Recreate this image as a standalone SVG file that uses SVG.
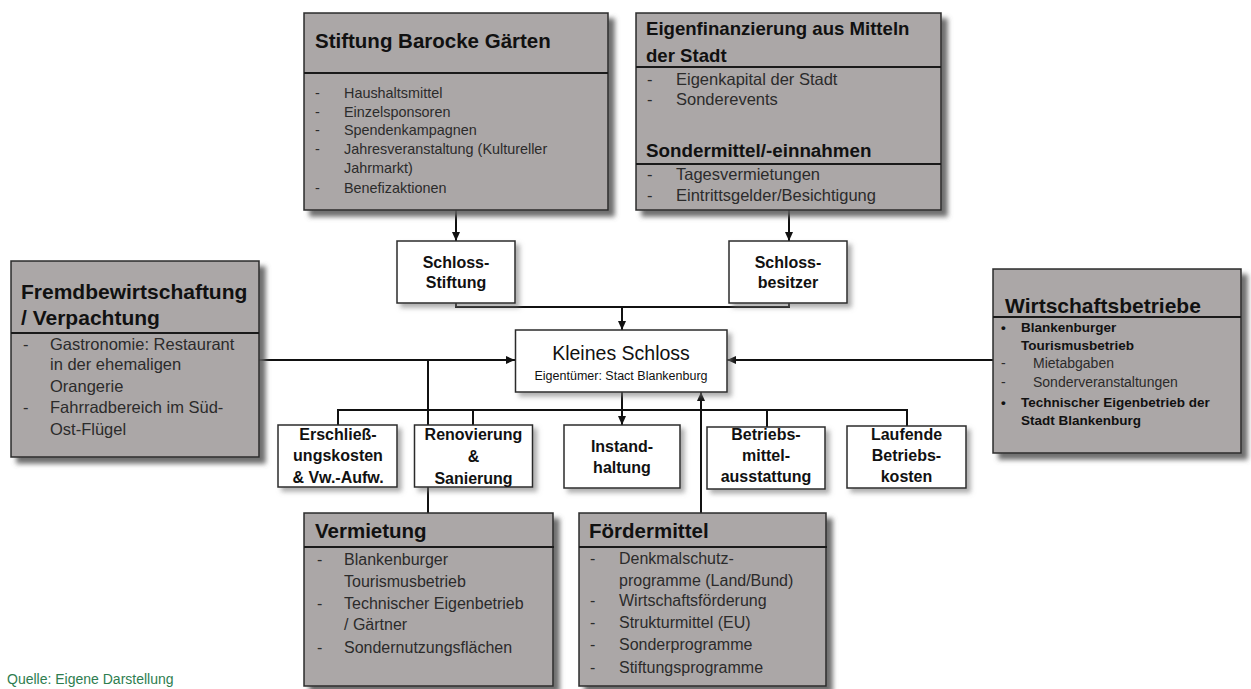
<svg xmlns="http://www.w3.org/2000/svg" width="1251" height="689" viewBox="0 0 1251 689">
<style>
.g{fill:#aba7a7;stroke:#2b2b2b;stroke-width:1.5;filter:url(#sh)}
.w{fill:#fff;stroke:#2b2b2b;stroke-width:1.5;filter:url(#shw)}
.dv{stroke:#1a1a1a;stroke-width:2}
.t{font-family:"Liberation Sans",Arial,sans-serif;font-weight:bold;fill:#111}
.i{font-family:"Liberation Sans",Arial,sans-serif;fill:#2b2b2b}
.b{font-family:"Liberation Sans",Arial,sans-serif;font-weight:bold;fill:#111;font-size:16px;text-anchor:middle}
.c{stroke:#111;stroke-width:2;fill:none}
.a{marker-end:url(#ar)}
</style>
<defs>
<filter id="sh" x="-10%" y="-10%" width="130%" height="130%"><feDropShadow dx="6" dy="6" stdDeviation="2.5" flood-color="#5f5f5f" flood-opacity="0.9"/></filter>
<filter id="shw" x="-10%" y="-10%" width="130%" height="130%"><feDropShadow dx="4" dy="4" stdDeviation="2.5" flood-color="#777" flood-opacity="0.6"/></filter>
<marker id="ar" markerUnits="userSpaceOnUse" markerWidth="9" markerHeight="8" refX="9" refY="4" orient="auto"><path d="M0,0 L9,4 L0,8 z" fill="#111"/></marker>
</defs>

<g id="connectors">
<line class="c a" x1="456" y1="210" x2="456" y2="241"/>
<line class="c a" x1="789" y1="210" x2="789" y2="241"/>
<polyline class="c" points="456,303 456,307 789,307 789,303"/>
<line class="c a" x1="622" y1="307" x2="622" y2="330"/>
<line class="c a" x1="259" y1="360" x2="515" y2="360"/>
<line class="c a" x1="993" y1="360" x2="727" y2="360"/>
<line class="c" x1="428" y1="513" x2="428" y2="360"/>
<line class="c a" x1="701" y1="513" x2="701" y2="392"/>
<line class="c" x1="622" y1="392" x2="622" y2="410"/>
<polyline class="c" points="338,425 338,410 907,410 907,426"/>
<line class="c" x1="473" y1="410" x2="473" y2="425"/>
<line class="c" x1="767" y1="410" x2="767" y2="427"/>
<line class="c a" x1="622" y1="410" x2="622" y2="425"/>
</g>

<g id="stiftung-barocke-gaerten">
<rect class="g" x="304" y="13" width="304" height="197"/>
<line class="dv" x1="304" y1="73" x2="608" y2="73"/>
<text class="t" x="315" y="48" font-size="20.5">Stiftung Barocke Gärten</text>
<g class="i" font-size="14.4">
<text x="315" y="98">-</text><text x="344" y="98">Haushaltsmittel</text>
<text x="315" y="117">-</text><text x="344" y="117">Einzelsponsoren</text>
<text x="315" y="135">-</text><text x="344" y="135">Spendenkampagnen</text>
<text x="315" y="154">-</text><text x="344" y="154">Jahresveranstaltung (Kultureller</text>
<text x="344" y="173">Jahrmarkt)</text>
<text x="315" y="193">-</text><text x="344" y="193">Benefizaktionen</text>
</g>
</g>

<g id="eigenfinanzierung">
<rect class="g" x="636" y="13" width="305" height="197"/>
<line class="dv" x1="636" y1="67" x2="941" y2="67"/>
<line class="dv" x1="636" y1="164" x2="941" y2="164"/>
<text class="t" x="646" y="35" font-size="18.6">Eigenfinanzierung aus Mitteln</text>
<text class="t" x="646" y="62" font-size="18.6">der Stadt</text>
<text class="t" x="646" y="157" font-size="18.8">Sondermittel/-einnahmen</text>
<g class="i" font-size="16.5">
<text x="647" y="85">-</text><text x="676" y="85">Eigenkapital der Stadt</text>
<text x="647" y="105">-</text><text x="676" y="105">Sonderevents</text>
<text x="647" y="180">-</text><text x="676" y="180">Tagesvermietungen</text>
<text x="647" y="201">-</text><text x="676" y="201">Eintrittsgelder/Besichtigung</text>
</g>
</g>

<g id="fremdbewirtschaftung">
<rect class="g" x="11" y="261" width="248" height="196"/>
<line class="dv" x1="11" y1="333" x2="259" y2="333"/>
<text class="t" x="21" y="299" font-size="21">Fremdbewirtschaftung</text>
<text class="t" x="21" y="325" font-size="21">/ Verpachtung</text>
<g class="i" font-size="16.5">
<text x="23" y="350">-</text><text x="50" y="350">Gastronomie: Restaurant</text>
<text x="50" y="370">in der ehemaligen</text>
<text x="50" y="392">Orangerie</text>
<text x="23" y="413">-</text><text x="50" y="413">Fahrradbereich im Süd-</text>
<text x="50" y="435">Ost-Flügel</text>
</g>
</g>

<g id="wirtschaftsbetriebe">
<rect class="g" x="993" y="269" width="248" height="184"/>
<line class="dv" x1="993" y1="317" x2="1241" y2="317"/>
<text class="t" x="1005" y="313" font-size="21">Wirtschaftsbetriebe</text>
<g class="t" font-size="13.5">
<text x="1001" y="332">•</text><text x="1021" y="332">Blankenburger</text>
<text x="1021" y="350">Tourismusbetrieb</text>
<text x="1001" y="407">•</text><text x="1021" y="407">Technischer Eigenbetrieb der</text>
<text x="1021" y="425">Stadt Blankenburg</text>
</g>
<g class="i" font-size="14">
<text x="1001" y="368">-</text><text x="1033" y="368">Mietabgaben</text>
<text x="1001" y="387">-</text><text x="1033" y="387">Sonderveranstaltungen</text>
</g>
</g>

<g id="schloss-stiftung">
<rect class="w" x="397" y="241" width="118" height="62"/>
<text class="b" x="456" y="268">Schloss-</text>
<text class="b" x="456" y="288">Stiftung</text>
</g>

<g id="schloss-besitzer">
<rect class="w" x="729" y="241" width="118" height="62"/>
<text class="b" x="788" y="268">Schloss-</text>
<text class="b" x="788" y="288">besitzer</text>
</g>

<g id="kleines-schloss">
<rect class="w" x="515.5" y="330" width="211.5" height="62"/>
<text x="621" y="360" font-family="Liberation Sans, Arial, sans-serif" font-size="19.5" fill="#111" text-anchor="middle">Kleines Schloss</text>
<text x="621" y="380" font-family="Liberation Sans, Arial, sans-serif" font-size="12.5" fill="#111" text-anchor="middle">Eigentümer: Stact Blankenburg</text>
</g>

<g id="erschliessungskosten">
<rect class="w" x="278" y="425" width="119" height="62"/>
<text class="b" x="338" y="440">Erschließ-</text>
<text class="b" x="338" y="461">ungskosten</text>
<text class="b" x="338" y="483">&amp; Vw.-Aufw.</text>
</g>

<g id="renovierung">
<rect class="w" x="414.5" y="425" width="118" height="62"/>
<text class="b" x="473.5" y="440">Renovierung</text>
<text class="b" x="473.5" y="462">&amp;</text>
<text class="b" x="473.5" y="484">Sanierung</text>
</g>

<g id="instandhaltung">
<rect class="w" x="564" y="425" width="116" height="63"/>
<text class="b" x="622" y="452">Instand-</text>
<text class="b" x="622" y="473">haltung</text>
</g>

<g id="betriebsmittel">
<rect class="w" x="707" y="427" width="118" height="62"/>
<text class="b" x="766" y="440">Betriebs-</text>
<text class="b" x="766" y="461">mittel-</text>
<text class="b" x="766" y="482">ausstattung</text>
</g>

<g id="laufende-betriebskosten">
<rect class="w" x="847" y="426" width="119" height="62"/>
<text class="b" x="906.5" y="440">Laufende</text>
<text class="b" x="906.5" y="461">Betriebs-</text>
<text class="b" x="906.5" y="482">kosten</text>
</g>

<g id="vermietung">
<rect class="g" x="304" y="513" width="249" height="173"/>
<line class="dv" x1="304" y1="547" x2="554" y2="547"/>
<text class="t" x="315" y="538" font-size="20.5">Vermietung</text>
<g class="i" font-size="16">
<text x="317" y="565">-</text><text x="344" y="565">Blankenburger</text>
<text x="344" y="587">Tourismusbetrieb</text>
<text x="317" y="609">-</text><text x="344" y="609">Technischer Eigenbetrieb</text>
<text x="344" y="630">/ Gärtner</text>
<text x="317" y="653">-</text><text x="344" y="653">Sondernutzungsflächen</text>
</g>
</g>

<g id="foerdermittel">
<rect class="g" x="579" y="513" width="247" height="173"/>
<line class="dv" x1="579" y1="547" x2="827" y2="547"/>
<text class="t" x="589" y="538" font-size="20.5">Fördermittel</text>
<g class="i" font-size="16">
<text x="590" y="564">-</text><text x="619" y="564">Denkmalschutz-</text>
<text x="619" y="586">programme (Land/Bund)</text>
<text x="590" y="606">-</text><text x="619" y="606">Wirtschaftsförderung</text>
<text x="590" y="628">-</text><text x="619" y="628">Strukturmittel (EU)</text>
<text x="590" y="650">-</text><text x="619" y="650">Sonderprogramme</text>
<text x="590" y="673">-</text><text x="619" y="673">Stiftungsprogramme</text>
</g>
</g>

<g id="quelle">
<text x="7" y="684" font-family="Liberation Sans, Arial, sans-serif" font-size="14" fill="#2e7d4f">Quelle: Eigene Darstellung</text>
</g>
</svg>
